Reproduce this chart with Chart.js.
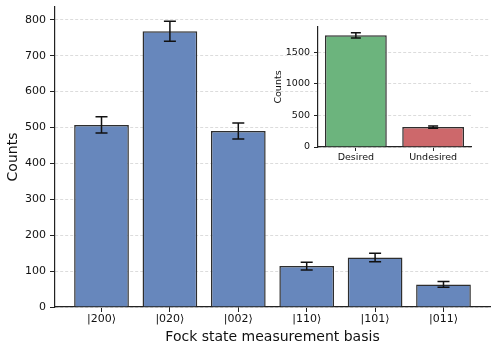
<!DOCTYPE html>
<html>
<head>
<meta charset="utf-8">
<script src="https://cdn.jsdelivr.net/npm/chart.js@4"></script>
<style>
  body { margin: 0; background: #fff; }
  #wrap { position: relative; width: 498px; height: 352px; }
  #inset { position: absolute; left: 268px; top: 20px; }
</style>
</head>
<body>
<div id="wrap">
  <canvas id="mainChart" width="498" height="352"></canvas>
  <canvas id="inset" width="210" height="150"></canvas>
</div>
<script>
// main histogram
const fockStates = ['|200⟩', '|020⟩', '|002⟩', '|110⟩', '|101⟩', '|011⟩']
const fockCounts = [507, 768, 490, 114, 138, 63]
const fockErrors = [22.5, 27.7, 22.1, 10.7, 11.7, 7.9]
const mainYTicks = [0, 100, 200, 300, 400, 500, 600, 700, 800]

// inset: desired vs undesired
const outcomeLabels = ['Desired', 'Undesired']
const outcomeCounts = [1765, 315]
const outcomeErrors = [42, 17.7]
const insetYTicks = [0, 500, 1000, 1500]

Chart.defaults.font.family = "'DejaVu Sans', sans-serif"
Chart.defaults.color = '#111'

const axisColor = '#222'
const gridColor = '#dcdcdc'

// draw error bars from the y scale
const errorBars = {
  id: 'errorBars',
  afterDatasetsDraw(chart, args, opts) {
    const { ctx } = chart
    const yScale = chart.scales.y
    const meta = chart.getDatasetMeta(0)
    const values = chart.data.datasets[0].data
    ctx.save()
    ctx.strokeStyle = '#111'
    ctx.lineWidth = opts.lineWidth
    meta.data.forEach((bar, i) => {
      const v = values[i].y
      const e = opts.errors[i]
      const top = yScale.getPixelForValue(v + e)
      const bot = yScale.getPixelForValue(v - e)
      const x = bar.x
      ctx.beginPath()
      ctx.moveTo(x, top); ctx.lineTo(x, bot)
      ctx.moveTo(x - opts.cap, top); ctx.lineTo(x + opts.cap, top)
      ctx.moveTo(x - opts.cap, bot); ctx.lineTo(x + opts.cap, bot)
      ctx.stroke()
    })
    ctx.restore()
  }
}

// white face for the inset axes only
const axesFace = {
  id: 'axesFace',
  beforeDraw(chart, args, opts) {
    if (!opts.color) return
    const { ctx, chartArea: a } = chart
    ctx.save()
    ctx.fillStyle = opts.color
    ctx.fillRect(a.left, a.top, a.right - a.left, a.bottom - a.top)
    ctx.restore()
  }
}

function makeChart(el, cfg) {
  return new Chart(el, {
    type: 'bar',
    data: {
      datasets: [{
        data: cfg.values.map((v, i) => ({ x: i, y: v })),
        backgroundColor: cfg.colors,
        borderColor: '#2e2e2e',
        borderWidth: 1.5,
        barPercentage: 1,
        categoryPercentage: 0.8,
      }]
    },
    options: {
      responsive: false,
      animation: false,
      layout: { padding: cfg.padding },
      plugins: {
        legend: { display: false },
        tooltip: { enabled: false },
        errorBars: { errors: cfg.errors, cap: cfg.cap, lineWidth: 1.5 },
        axesFace: { color: cfg.face },
      },
      scales: {
        x: {
          type: 'linear',
          offset: false,
          min: cfg.xMin,
          max: cfg.xMax,
          afterBuildTicks: s => { s.ticks = cfg.labels.map((_, i) => ({ value: i })) },
          afterFit: s => { s.height = cfg.xHeight; s.paddingLeft = 0; s.paddingRight = 0 },
          ticks: {
            callback: v => cfg.labels[v],
            font: { size: cfg.tickSize },
            color: '#111',
            padding: 1,
            maxRotation: 0,
            autoSkip: false,
          },
          grid: { offset: false, drawOnChartArea: false, tickLength: cfg.tickLen, tickColor: axisColor },
          border: { color: axisColor, width: 1.2 },
          title: cfg.xTitle ? {
            display: true, text: cfg.xTitle, font: { size: 14 }, color: '#111',
            padding: { top: 0, bottom: 6 }
          } : { display: false },
        },
        y: {
          min: 0,
          max: cfg.yMax,
          afterBuildTicks: s => { s.ticks = cfg.yTicks.map(v => ({ value: v })) },
          afterFit: s => { s.width = cfg.yWidth; s.paddingTop = 0; s.paddingBottom = 0 },
          ticks: { font: { size: cfg.tickSize }, color: '#111', padding: 4, callback: v => String(v) },
          grid: { color: gridColor, tickLength: cfg.tickLen, tickColor: axisColor, tickBorderDash: [] },
          border: { color: axisColor, width: 1.2, dash: [3, 2] },
          title: {
            display: true, text: 'Counts', font: { size: cfg.yTitleSize }, color: '#111',
            padding: { top: cfg.yTitlePad, bottom: 0 }
          },
        }
      }
    },
    plugins: [errorBars, axesFace]
  })
}

makeChart(document.getElementById('mainChart'), {
  values: fockCounts, errors: fockErrors, labels: fockStates, yTicks: mainYTicks,
  colors: 'rgb(103,135,188)', xMin: -0.68, xMax: 5.68, yMax: 835.5,
  padding: { top: 7, right: 8, left: 0, bottom: 0 },
  xHeight: 45, yWidth: 55, tickLen: 5, tickSize: 11, cap: 6,
  xTitle: 'Fock state measurement basis', yTitleSize: 14, yTitlePad: 5,
})

makeChart(document.getElementById('inset'), {
  values: outcomeCounts, errors: outcomeErrors, labels: outcomeLabels, yTicks: insetYTicks,
  colors: ['rgb(108,180,125)', 'rgb(205,104,107)'], xMin: -0.49, xMax: 1.49, yMax: 1897,
  padding: { top: 7, right: 7, left: 0, bottom: 0 },
  xHeight: 23, yWidth: 50, tickLen: 4, tickSize: 9.5, cap: 5,
  xTitle: null, yTitleSize: 9.5, yTitlePad: 5, face: '#fff',
})
</script>
</body>
</html>
